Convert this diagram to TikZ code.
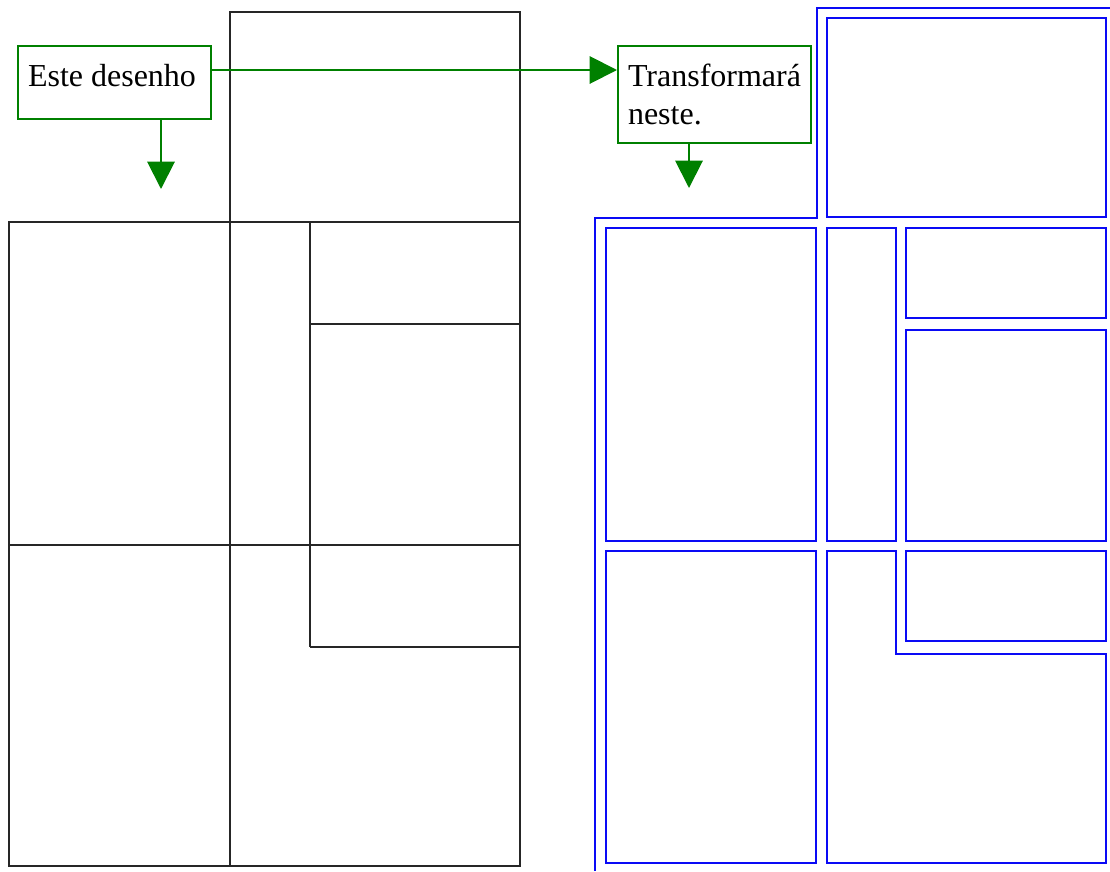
\documentclass[tikz,border=0pt]{standalone}
\usepackage{fontspec}
\setmainfont{Liberation Serif}
\usepackage{xcolor}
\usetikzlibrary{arrows.meta,positioning,calc}
\definecolor{verde}{RGB}{0,128,0}
\definecolor{azul}{RGB}{10,10,245}

\begin{document}
\begin{tikzpicture}[x=0.75pt,y=-0.75pt,
    caixa/.style={draw=verde, line width=1.5pt, anchor=north west, align=left,
        text width=129.75pt, inner xsep=7.5pt, inner ysep=0pt, text height=30pt,
        font=\fontsize{24pt}{28.5pt}\selectfont},
    seta/.style={-{Triangle[width=20.5pt,length=20.5pt]}, line width=1.5pt, verde},
    antes/.style={line width=1.4pt, black!85},
    depois/.style={line width=1.5pt, azul}]
\useasboundingbox (0,0) rectangle (1110,871);

% Desenho original
\draw[antes] (230,12) rectangle (520,222);
\draw[antes] (9,222) rectangle (520,866);
\draw[antes] (230,222) -- (230,866);
\draw[antes] (9,545) -- (520,545);
\draw[antes] (310,222) -- (310,647);
\draw[antes] (310,324) -- (520,324);
\draw[antes] (310,647) -- (520,647);

% Desenho transformado
\draw[depois] (595,871) -- (595,218) -- (817,218) -- (817,8) -- (1110,8);
\draw[depois] (827,18) rectangle (1106,217);
\draw[depois] (606,228) rectangle (816,541);
\draw[depois] (827,228) rectangle (896,541);
\draw[depois] (906,228) rectangle (1106,318);
\draw[depois] (906,330) rectangle (1106,541);
\draw[depois] (606,551) rectangle (816,863);
\draw[depois] (827,551) -- (896,551) -- (896,654) -- (1106,654) -- (1106,863) -- (827,863) -- cycle;
\draw[depois] (906,551) rectangle (1106,641);

% Legendas
\node[caixa, text depth=24.75pt] (desenho) at (17,45) {\mbox{Este\hspace{0.25em}desenho}};
\node[caixa, text depth=42.75pt] (transforma) at (617,45) {\mbox{Transformará}\\neste.};

\coordinate (alvo1) at (161,189);
\coordinate (alvo2) at (689,188);

\draw[seta] ([yshift=-18.75pt]desenho.north east) -- ([yshift=-18.75pt]transforma.north west);
\draw[seta] (desenho.south -| alvo1) -- (alvo1);
\draw[seta] (transforma.south -| alvo2) -- (alvo2);
\end{tikzpicture}
\end{document}
